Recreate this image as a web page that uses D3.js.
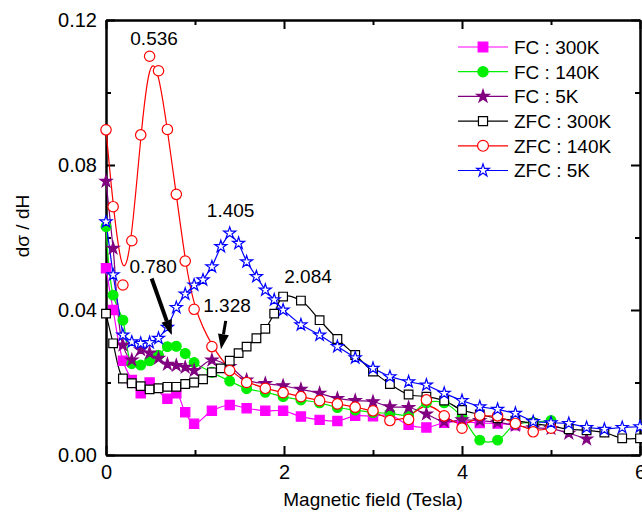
<!DOCTYPE html>
<html>
<head>
<meta charset="utf-8">
<script src="https://cdn.jsdelivr.net/npm/d3@7"></script>
<style>
    body { margin: 0; background: #fff; }
    svg { display: block; font-family: "Liberation Sans", Arial, sans-serif; }
</style>
</head>
<body>
<svg class="chart" width="642" height="513"></svg>
<script>

// values: [field (T), dσ/dH]
const fc300 = [[0,0.0515],[0.08,0.040],[0.19,0.026],[0.29,0.0207],[0.39,0.017],[0.49,0.020],[0.69,0.0155],[0.79,0.017],[0.89,0.0118],[0.99,0.0086],[1.19,0.0122],[1.39,0.0138],[1.58,0.0129],[1.79,0.0122],[1.99,0.0122],[2.19,0.0106],[2.40,0.0097],[2.60,0.0094],[2.80,0.0108],[3.0,0.0107],[3.19,0.0110],[3.40,0.0083],[3.60,0.0076],[3.80,0.0089],[4.0,0.0092],[4.2,0.0088],[4.4,0.0087],[4.6,0.0082]];

const fc140 = [[0,0.063],[0.08,0.0441],[0.19,0.0372],[0.29,0.0252],[0.39,0.0248],[0.49,0.0260],[0.59,0.0275],[0.69,0.0299],[0.79,0.0300],[0.89,0.0280],[0.99,0.0255],[1.19,0.0228],[1.39,0.0204],[1.58,0.0183],[1.79,0.0173],[1.99,0.0161],[2.19,0.0152],[2.40,0.0144],[2.60,0.0131],[2.80,0.0124],[3.0,0.0117],[3.19,0.0115],[3.40,0.0110],[3.60,0.0144],[3.80,0.0144],[4.0,0.0105],[4.2,0.0041],[4.4,0.0041],[4.6,0.0085],[4.8,0.0090],[5.0,0.0095]];

const fc5 = [[0,0.0755],[0.08,0.057],[0.19,0.0303],[0.29,0.0262],[0.39,0.029],[0.49,0.0281],[0.59,0.0267],[0.69,0.0250],[0.79,0.0247],[0.89,0.0242],[0.99,0.0233],[1.19,0.0262],[1.39,0.0244],[1.58,0.0207],[1.79,0.0197],[1.99,0.0191],[2.19,0.0181],[2.40,0.0170],[2.60,0.0156],[2.80,0.0150],[3.0,0.0147],[3.19,0.0133],[3.40,0.0131],[3.60,0.0113],[3.80,0.0092],[4.0,0.0097],[4.2,0.0095],[4.4,0.0090],[4.6,0.0082],[4.8,0.0075],[5.0,0.0073],[5.2,0.0060],[5.4,0.0044]];

const zfc300 = [[0,0.039],[0.08,0.0308],[0.19,0.0211],[0.29,0.0198],[0.39,0.0190],[0.49,0.0181],[0.59,0.0184],[0.69,0.0188],[0.79,0.0188],[0.89,0.0196],[0.99,0.0200],[1.09,0.0209],[1.19,0.0228],[1.29,0.0239],[1.39,0.0260],[1.49,0.0281],[1.58,0.0299],[1.69,0.0322],[1.79,0.0348],[1.89,0.0390],[1.99,0.0437],[2.19,0.0426],[2.40,0.0372],[2.60,0.0320],[2.80,0.0276],[3.0,0.0230],[3.19,0.0196],[3.40,0.0167],[3.60,0.0161],[3.80,0.0150],[4.0,0.0124],[4.2,0.0112],[4.4,0.0101],[4.6,0.0095],[4.8,0.0087],[5.0,0.0080],[5.2,0.0071],[5.4,0.0068],[5.6,0.0062],[5.8,0.0046],[6.0,0.0046]];

const zfc140 = [[0,0.0897],[0.08,0.0685],[0.19,0.0469],[0.29,0.0591],[0.39,0.0883],[0.49,0.1100],[0.59,0.1060],[0.69,0.0898],[0.79,0.0719],[0.89,0.0535],[0.99,0.0402],[1.19,0.0299],[1.39,0.0233],[1.58,0.0200],[1.79,0.0184],[1.99,0.0172],[2.19,0.0161],[2.40,0.0150],[2.60,0.0141],[2.80,0.0132],[3.0,0.0122],[3.19,0.0095],[3.40,0.0098],[3.60,0.0152],[3.80,0.0108],[4.0,0.0074],[4.2,0.0110],[4.4,0.0108],[4.6,0.0087],[4.8,0.0064],[5.0,0.0074]];

const zfc5 = [[0,0.0643],[0.08,0.0497],[0.19,0.0331],[0.29,0.0312],[0.39,0.0308],[0.49,0.0310],[0.59,0.0322],[0.69,0.0352],[0.79,0.0407],[0.89,0.0444],[0.99,0.0469],[1.09,0.0483],[1.19,0.0519],[1.29,0.0575],[1.39,0.0612],[1.49,0.0584],[1.58,0.0533],[1.69,0.0492],[1.79,0.0455],[1.89,0.0428],[1.99,0.0400],[2.19,0.0359],[2.40,0.0331],[2.60,0.0299],[2.80,0.0268],[3.0,0.0239],[3.19,0.0216],[3.40,0.0202],[3.60,0.0193],[3.80,0.0170],[4.0,0.0150],[4.2,0.0133],[4.4,0.0126],[4.6,0.0115],[4.8,0.0092],[5.0,0.0089],[5.2,0.0087],[5.4,0.0076],[5.6,0.0071],[5.8,0.0076],[6.0,0.0078]];

const legendNames = ['FC : 300K', 'FC : 140K', 'FC : 5K', 'ZFC : 300K', 'ZFC : 140K', 'ZFC : 5K'];

const xMajor = [0, 2, 4, 6];
const xMinor = [1, 3, 5];
const yMajor = [0, 0.04, 0.08, 0.12];
const yMinor = [0.02, 0.06, 0.10];

// peak labels [x, y, text] and arrows [x0, y0, x1, y1, width] in data units
const peakLabels = [[0.54, 0.1131, '0.536'], [1.40, 0.0657, '1.405'], [2.27, 0.0474, '2.084'], [0.53, 0.0502, '0.780'], [1.36, 0.0395, '1.328']];
const arrows = [[0.513, 0.0487, 0.738, 0.0331, 4], [1.345, 0.0370, 1.292, 0.0292, 3]];

const series = [
    { name: legendNames[0], data: fc300, color: '#ff00ff', symbol: d3.symbolSquare, size: 85, fill: '#ff00ff', curve: d3.curveCatmullRom },
    { name: legendNames[1], data: fc140, color: '#00ee00', symbol: d3.symbolCircle, size: 75, fill: '#00ee00', curve: d3.curveCatmullRom },
    { name: legendNames[2], data: fc5,   color: '#800080', symbol: d3.symbolStar,   size: 45, fill: '#800080', curve: d3.curveCatmullRom },
    { name: legendNames[3], data: zfc300, color: '#000000', symbol: d3.symbolSquare, size: 75, fill: '#fff', curve: d3.curveCatmullRom },
    { name: legendNames[4], data: zfc140, color: '#ff0000', symbol: d3.symbolCircle, size: 85, fill: '#fff', curve: d3.curveBasis },
    { name: legendNames[5], data: zfc5,   color: '#0000ff', symbol: d3.symbolStar,   size: 45, fill: '#fff', curve: d3.curveLinear }
];

const plotLeft = 106, plotRight = 640, plotTop = 20, plotBottom = 455;

const svg = d3.select('.chart');

const x = d3.scaleLinear().domain([0, 6]).range([plotLeft, plotRight]);
const y = d3.scaleLinear().domain([0, 0.12]).range([plotBottom, plotTop]);

svg.append('defs').append('clipPath').attr('id', 'plot')
    .append('rect').attr('x', plotLeft).attr('y', plotTop)
    .attr('width', plotRight - plotLeft).attr('height', plotBottom - plotTop);

// axes, ticks pointing inward
function drawAxis(axis, transform, values, size, labels) {
    const g = svg.append('g')
        .attr('transform', transform)
        .call(axis.tickValues(values).tickSizeInner(-size).tickSizeOuter(0).tickPadding(10)
            .tickFormat(labels ? labels : ''));
    g.selectAll('path, line').attr('stroke', '#000').attr('stroke-width', 2);
    g.selectAll('text').attr('fill', '#000').style('font-size', '20px');
    return g;
}

drawAxis(d3.axisBottom(x), `translate(0,${plotBottom})`, xMajor, 9, d3.format('d'));
drawAxis(d3.axisBottom(x), `translate(0,${plotBottom})`, xMinor, 5, null);
drawAxis(d3.axisTop(x), `translate(0,${plotTop})`, xMajor, 9, null);
drawAxis(d3.axisTop(x), `translate(0,${plotTop})`, xMinor, 5, null);
drawAxis(d3.axisLeft(y), `translate(${plotLeft},0)`, yMajor, 9, d3.format('.2f'))
    .selectAll('text').attr('x', -9);
drawAxis(d3.axisLeft(y), `translate(${plotLeft},0)`, yMinor, 5, null);
drawAxis(d3.axisRight(y), `translate(${plotRight},0)`, yMajor, 9, null);
drawAxis(d3.axisRight(y), `translate(${plotRight},0)`, yMinor, 5, null);

svg.append('text')
    .attr('x', (plotLeft + plotRight) / 2).attr('y', 506)
    .attr('text-anchor', 'middle').style('font-size', '19px')
    .text('Magnetic field (Tesla)');

svg.append('text')
    .attr('transform', 'translate(29,226) rotate(-90)')
    .attr('text-anchor', 'middle').style('font-size', '19px')
    .text('dσ / dH');

// series
const plot = svg.append('g').attr('clip-path', 'url(#plot)');

series.forEach(s => {
    const line = d3.line().x(d => x(d[0])).y(d => y(d[1])).curve(s.curve);
    plot.append('path')
        .datum(s.data)
        .attr('d', line)
        .attr('fill', 'none')
        .attr('stroke', s.color)
        .attr('stroke-width', 1.2);
});

series.forEach(s => {
    svg.append('g').selectAll('path')
        .data(s.data)
        .join('path')
        .attr('transform', d => `translate(${x(d[0])},${y(d[1])})`)
        .attr('d', d3.symbol(s.symbol, s.size))
        .attr('fill', s.fill)
        .attr('stroke', s.color)
        .attr('stroke-width', 1.2);
});

// legend
const legend = svg.append('g').attr('transform', 'translate(458,47)');

series.forEach((s, i) => {
    const row = legend.append('g').attr('transform', `translate(0,${i * 24.7})`);
    row.append('line').attr('x1', 0).attr('x2', 50).attr('stroke', s.color).attr('stroke-width', 1.2);
    row.append('path').attr('transform', 'translate(25,0)')
        .attr('d', d3.symbol(s.symbol, s.size * 1.1))
        .attr('fill', s.fill).attr('stroke', s.color).attr('stroke-width', 1.2);
    row.append('text').attr('x', 56).attr('dy', '0.36em')
        .style('font-size', '19px').text(s.name);
});

// peak annotations
svg.append('g').selectAll('text')
    .data(peakLabels)
    .join('text')
    .attr('x', d => x(d[0])).attr('y', d => y(d[1]))
    .attr('text-anchor', 'middle').style('font-size', '19px')
    .text(d => d[2]);

arrows.forEach(a => {
    const x0 = x(a[0]), y0 = y(a[1]), x1 = x(a[2]), y1 = y(a[3]);
    const ang = Math.atan2(y1 - y0, x1 - x0);
    const headLen = 15, headW = 5.5;
    const bx = x1 - headLen * Math.cos(ang), by = y1 - headLen * Math.sin(ang);
    svg.append('line')
        .attr('x1', x0).attr('y1', y0).attr('x2', bx).attr('y2', by)
        .attr('stroke', '#000').attr('stroke-width', a[4]);
    const px = -Math.sin(ang) * headW, py = Math.cos(ang) * headW;
    svg.append('path')
        .attr('d', `M${x1},${y1}L${bx + px},${by + py}L${bx - px},${by - py}Z`)
        .attr('fill', '#000');
});

</script>
</body>
</html>
